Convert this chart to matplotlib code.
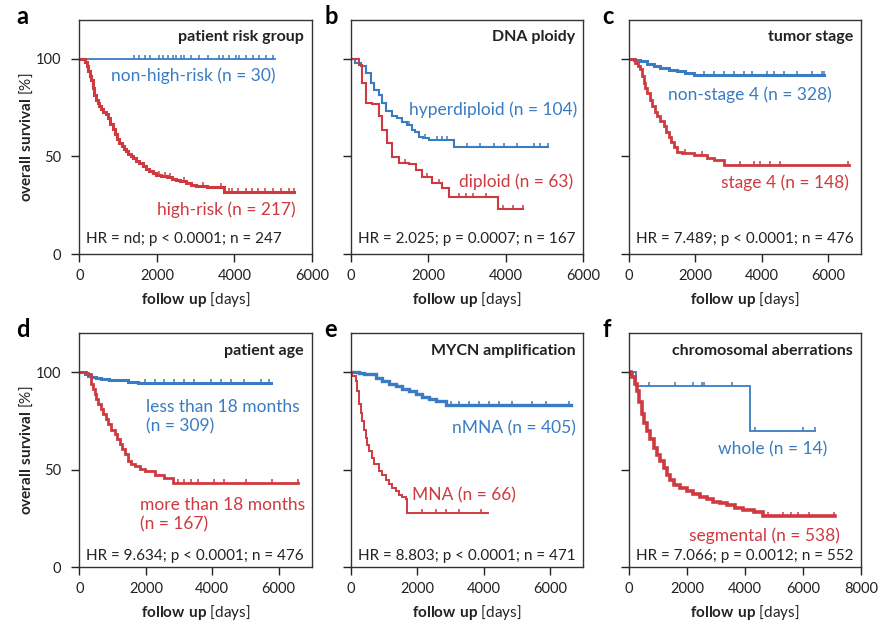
import numpy as np
import matplotlib.pyplot as plt

plt.rcParams['font.family'] = ['Lato', 'DejaVu Sans']
plt.rcParams['mathtext.fontset'] = 'custom'
plt.rcParams['mathtext.rm'] = 'Lato'
plt.rcParams['mathtext.bf'] = 'Lato:bold'

BLUE = '#3a7cc3'
RED = '#cf3a40'
INK = '#222222'

# a: patient risk group
a_low_t = [0, 5060]
a_low_s = [100, 100]
a_low_cens = [1420, 1550, 1680, 1810, 2060, 2150, 2280, 2410, 2490, 2620, 2710, 2880,
              3100, 3310, 3610, 3715, 3870, 4040, 4130, 4300, 4470, 4640, 4820, 4990]
a_high_t = [0, 150, 190, 230, 270, 300, 340, 380, 430, 470, 516, 560, 620, 690, 740, 800,
            860, 920, 980, 1030, 1090, 1150, 1200, 1260, 1320, 1380, 1450, 1530, 1630,
            1720, 1800, 1890, 1980, 2100, 2250, 2400, 2490, 2600, 2750, 2880, 3010, 3300,
            3610, 3740, 5550]
a_high_s = [100, 98.5, 96.5, 94, 91.5, 89, 85, 81.5, 79, 77.5, 76, 74.5, 73, 72, 69.5, 66.5,
            64, 61.5, 59, 57, 55.5, 54, 53, 51.5, 50.5, 49, 47.5, 46.5, 45,
            43.5, 42.5, 41.6, 40.7, 40.2, 39.5, 38.5, 38, 37.2, 36.4, 35.5, 34.7, 34.5,
            34.4, 32, 32]
a_high_cens = [2050, 2200, 2350, 2700, 3200, 3650, 3850, 3950, 4100, 4300, 4450, 4600,
               4800, 5000, 5200, 5400, 5550]

# b: DNA ploidy
b_hyper_t = [0, 100, 250, 380, 509, 595, 724, 810, 897, 1069, 1180, 1327, 1440, 1586, 1655,
             1758, 1870, 2017, 2534, 2664, 5077]
b_hyper_s = [100, 98, 96.3, 92.9, 87.7, 84.3, 81.7, 77.4, 73.1, 70.5, 69.5, 67.9, 66, 63.7,
             62.7, 60.2, 59.5, 58.5, 58.5, 55, 55]
b_hyper_cens = [1500, 1900, 2215, 2345, 2470, 2990, 3335, 3680, 3940, 4280, 4715, 4890, 5077]
b_dip_t = [0, 100, 207, 292, 380, 551, 724, 810, 939, 1069, 1241, 1500, 1672, 1845, 2103,
           2362, 2534, 3741, 3784, 4431]
b_dip_s = [100, 100, 97, 87.7, 77.4, 76.9, 70.5, 63.7, 56.8, 49.9, 46.5, 46, 43, 39.6, 36.2,
           33.6, 29.3, 29.3, 23.3, 23.3]
b_dip_cens = [1400, 1950, 2276, 2793, 2966, 3138, 3483, 3913, 4172, 4431]

# c: tumor stage
c_low_t = [0, 150, 341, 542, 743, 943, 1200, 1445, 1700, 1948, 5880]
c_low_s = [100, 99.5, 98.9, 97.2, 96.5, 95.5, 94.5, 93.7, 92.8, 92, 92]
c_low_cens = [2248, 2549, 2850, 3151, 3452, 3703, 4154, 4355, 4656, 5057, 5508, 5809, 5880]
c_st4_t = [0, 191, 260, 341, 390, 441, 490, 542, 620, 692, 770, 843, 940, 1043, 1120, 1194,
           1270, 1345, 1445, 1595, 1948, 2348, 2549, 2850, 6613]
c_st4_s = [100, 98, 96.5, 94.6, 91, 87.7, 85, 82.6, 79, 75.7, 73, 70.5, 68, 65.4, 62.5, 60.2,
           57.5, 55, 52.5, 51.6, 50.8, 49, 48.2, 45.6, 45.6]
c_st4_cens = [1700, 2200, 3350, 3753, 3953, 4253, 4554, 6583]

# d: patient age
d_young_t = [0, 161, 260, 361, 500, 661, 900, 1161, 1450, 1761, 5772]
d_young_s = [100, 99, 98, 97.4, 96.8, 96.5, 96, 95.7, 95, 94.3, 94.3]
d_young_cens = [1961, 2261, 2561, 2861, 3161, 3461, 3961, 4261, 4561, 4961, 5461, 5711]
d_old_t = [0, 200, 271, 361, 411, 461, 511, 561, 636, 711, 786, 861, 961, 1061, 1136, 1211,
           1286, 1361, 1461, 1561, 1661, 1811, 1961, 2261, 2561, 2811, 6580]
d_old_s = [100, 99.5, 99.1, 94, 91.5, 88.8, 86, 83.6, 81, 78.4, 76, 73.3, 70.5, 68.1, 65.5,
           62.9, 60.5, 57.8, 54.3, 53, 51.7, 50.5, 49.1, 47.4, 45.7, 43.1, 43.1]
d_old_cens = [2961, 3161, 3361, 3561, 4061, 4361, 5011, 5811, 6580]

# e: MYCN amplification
e_nmna_t = [0, 241, 400, 543, 745, 945, 1150, 1347, 1550, 1749, 1950, 2151, 2350, 2553, 2855,
            6624]
e_nmna_s = [100, 99.5, 99, 98.8, 97, 95.4, 94, 92.8, 91.5, 90.3, 88.5, 87.2, 86, 85, 83.2,
            83.2]
e_nmna_cens = [3000, 3256, 3558, 3859, 4161, 4462, 4864, 5467, 5869, 6572]
e_mna_t = [0, 40, 141, 191, 241, 292, 342, 392, 442, 492, 543, 643, 693, 844, 945, 1046, 1146,
           1246, 1347, 1447, 1548, 1649, 1699, 4121]
e_mna_s = [100, 98, 95.4, 90.3, 83.4, 79, 74.9, 70.5, 66.3, 62.5, 59.5, 56.1, 52.7, 49.2, 47,
           44.9, 42.5, 40.6, 38.8, 37.2, 36, 34.7, 28, 28]
e_mna_cens = [2151, 2553, 2855, 3256, 3910]

# f: chromosomal aberrations
f_whole_t = [0, 251, 4162, 6391]
f_whole_s = [100, 93.1, 69.8, 69.8]
f_whole_cens = [675, 1589, 2195, 2504, 2584, 3533, 4333, 5992, 6391]
f_seg_t = [0, 60, 103, 190, 274, 360, 446, 530, 617, 730, 846, 960, 1075, 1190, 1304, 1420,
           1533, 1760, 1990, 2220, 2447, 2680, 2905, 3130, 3362, 3650, 3934, 4300, 4620, 7090]
f_seg_s = [100, 99, 97.4, 94, 90.5, 84.5, 78.4, 74, 69.8, 65.5, 61.2, 57.5, 54.3, 50.8, 47.4,
           44.7, 42.2, 40.5, 38.8, 37.5, 36.2, 34.8, 33.6, 32.7, 31.9, 30.5, 29.3, 28.4, 26, 26]
f_seg_cens = [4780, 5294, 5580, 5808, 6209, 7066]

panels = [
    dict(letter='a', title='patient risk group', xmax=6000,
         hr='HR = nd; p < 0.0001; n = 247',
         curves=[(a_low_t, a_low_s, a_low_cens, BLUE, 1.3),
                 (a_high_t, a_high_s, a_high_cens, RED, 2.2)],
         labels=[('non-high-risk (n = 30)', BLUE, 0.845, 0.761, 'right'),
                 ('high-risk (n = 217)', RED, 0.931, 0.188, 'right')]),
    dict(letter='b', title='DNA ploidy', xmax=6000,
         hr='HR = 2.025; p = 0.0007; n = 167',
         curves=[(b_hyper_t, b_hyper_s, b_hyper_cens, BLUE, 1.5),
                 (b_dip_t, b_dip_s, b_dip_cens, RED, 1.5)],
         labels=[('hyperdiploid (n = 104)', BLUE, 0.972, 0.615, 'right'),
                 ('diploid (n = 63)', RED, 0.957, 0.309, 'right')]),
    dict(letter='c', title='tumor stage', xmax=7000,
         hr='HR = 7.489; p < 0.0001; n = 476',
         curves=[(c_low_t, c_low_s, c_low_cens, BLUE, 2.2),
                 (c_st4_t, c_st4_s, c_st4_cens, RED, 2.0)],
         labels=[('non-stage 4 (n = 328)', BLUE, 0.873, 0.679, 'right'),
                 ('stage 4 (n = 148)', RED, 0.947, 0.305, 'right')]),
    dict(letter='d', title='patient age', xmax=7000,
         hr='HR = 9.634; p < 0.0001; n = 476',
         curves=[(d_young_t, d_young_s, d_young_cens, BLUE, 2.2),
                 (d_old_t, d_old_s, d_old_cens, RED, 2.0)],
         labels=[('less than 18 months\n(n = 309)', BLUE, 0.286, 0.643, 'left'),
                 ('more than 18 months\n(n = 167)', RED, 0.262, 0.222, 'left')]),
    dict(letter='e', title='MYCN amplification', xmax=7000,
         hr='HR = 8.803; p < 0.0001; n = 471',
         curves=[(e_nmna_t, e_nmna_s, e_nmna_cens, BLUE, 2.4),
                 (e_mna_t, e_mna_s, e_mna_cens, RED, 1.4)],
         labels=[('nMNA (n = 405)', BLUE, 0.966, 0.593, 'right'),
                 ('MNA (n = 66)', RED, 0.708, 0.308, 'right')]),
    dict(letter='f', title='chromosomal aberrations', xmax=8000,
         hr='HR = 7.066; p = 0.0012; n = 552',
         curves=[(f_whole_t, f_whole_s, f_whole_cens, BLUE, 1.3),
                 (f_seg_t, f_seg_s, f_seg_cens, RED, 2.6)],
         labels=[('whole (n = 14)', BLUE, 0.853, 0.503, 'right'),
                 ('segmental (n = 538)', RED, 0.906, 0.134, 'right')]),
]

lefts = [0.0903, 0.3989, 0.7148]
bottoms = [0.5942, 0.094]
w, h = 0.264, 0.374

fig = plt.figure(figsize=(8.8, 6.26), dpi=100)

for i, p in enumerate(panels):
    row, col = divmod(i, 3)
    ax = fig.add_axes([lefts[col], bottoms[row], w, h])

    for t, s, cens, color, lw in p['curves']:
        t = np.asarray(t, float)
        s = np.asarray(s, float)
        ax.step(t, s, where='post', color=color, lw=lw, solid_joinstyle='miter')
        # censored patients as small ticks on the curve
        cens = np.asarray(cens, float)
        idx = np.searchsorted(t, cens, side='right') - 1
        ax.plot(cens, s[idx], linestyle='none', marker=2, markersize=2.8,
                markeredgewidth=1.1, color=color)

    ax.set_xlim(0, p['xmax'])
    ax.set_ylim(0, 120)
    ax.set_xticks(np.arange(0, p['xmax'] + 1, 2000))
    ax.set_yticks([0, 50, 100])
    ax.tick_params(direction='out', length=6, width=1, labelsize=10.5, colors=INK)
    ax.tick_params(axis='x', pad=4.5)
    ax.tick_params(axis='y', pad=7)
    for sp in ax.spines.values():
        sp.set_linewidth(1.0)
        sp.set_color('#333333')

    if col == 0:
        ax.set_ylabel(r'$\mathbf{overall\ survival}$ [%]', fontsize=11, color=INK, labelpad=1)
    else:
        ax.set_yticklabels([])
    ax.set_xlabel(r'$\mathbf{follow\ up}$ [days]', fontsize=11, color=INK, labelpad=5)

    ax.text(0.965, 0.925, p['title'], transform=ax.transAxes, ha='right', va='center',
            fontsize=11.5, fontweight='bold', color=INK)
    hr_y = 0.064 if row == 0 else 0.048
    ax.text(0.03, hr_y, p['hr'], transform=ax.transAxes, ha='left', va='center',
            fontsize=11, color=INK)
    for txt, color, x, y, ha in p['labels']:
        ax.text(x, y, txt, transform=ax.transAxes, ha=ha, va='center',
                fontsize=12.5, color=color, linespacing=1.25)

    fig.text(lefts[col] - 0.072 if col == 0 else lefts[col] - 0.03,
             bottoms[row] + h + 0.005, p['letter'], fontsize=17, fontweight='bold',
             color='black', va='center', ha='left')

fig.savefig('out.png', dpi=100)
